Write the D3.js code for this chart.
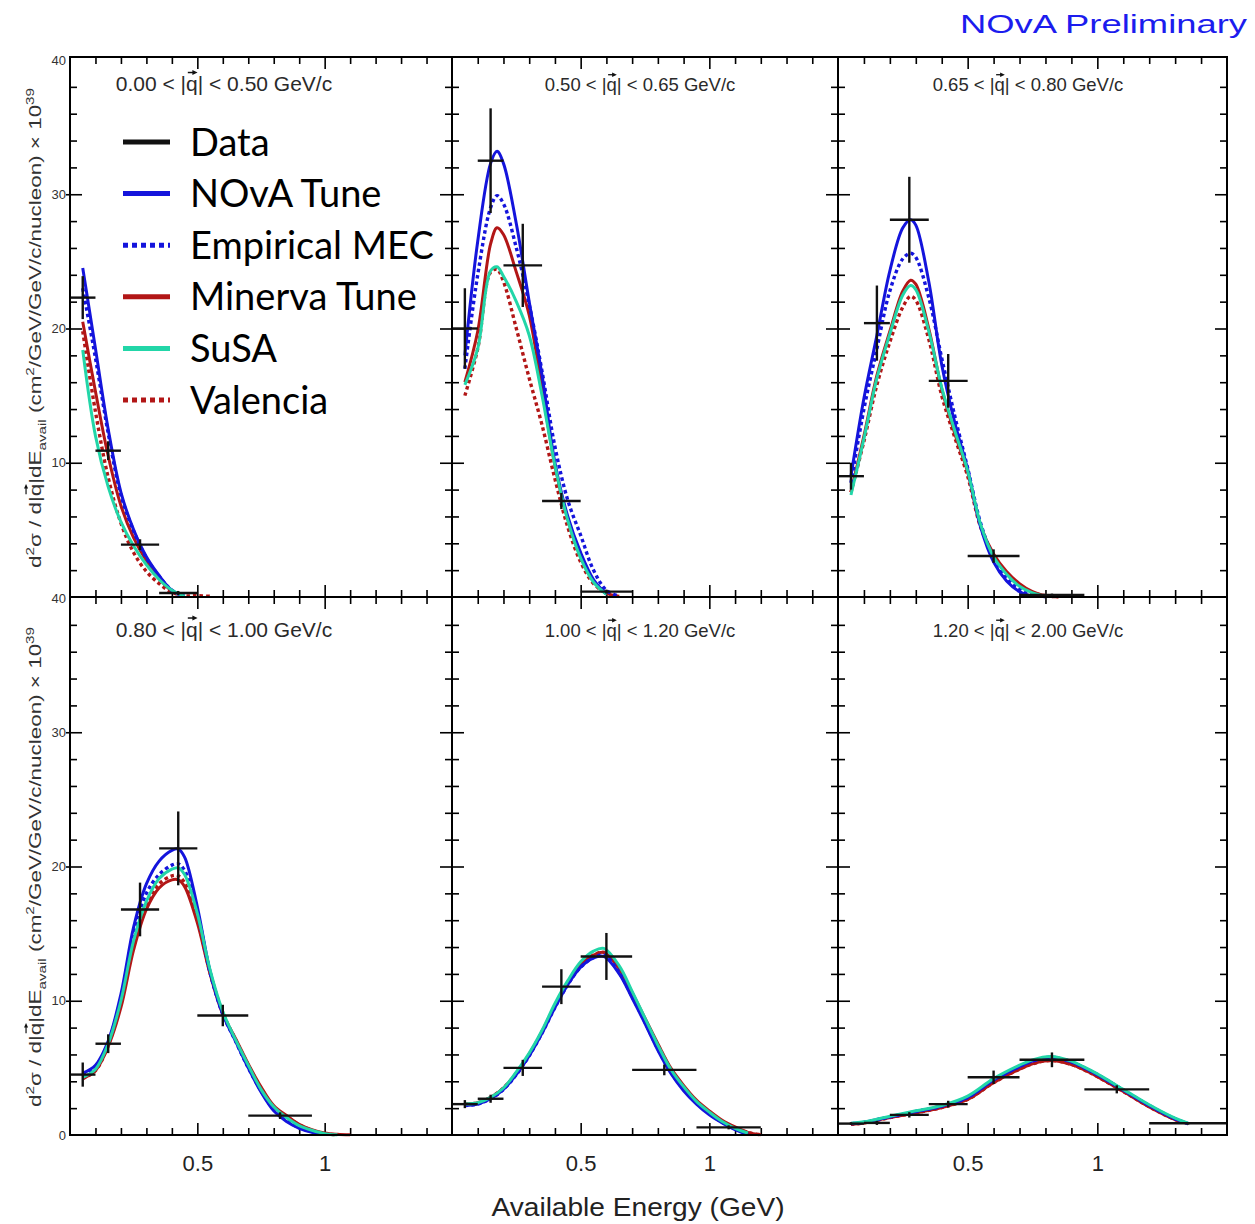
<!DOCTYPE html>
<html>
<head>
<meta charset="utf-8">
<script src="https://cdn.jsdelivr.net/npm/d3@7"></script>
<style>
body{margin:0;background:#fff}
svg{display:block}
</style>
</head>
<body>
<svg id="chart" width="1255" height="1224"></svg>
<script>
// ---- data ----
const panelTitles = ["0.00 < |q| < 0.50 GeV/c", "0.50 < |q| < 0.65 GeV/c", "0.65 < |q| < 0.80 GeV/c",
                     "0.80 < |q| < 1.00 GeV/c", "1.00 < |q| < 1.20 GeV/c", "1.20 < |q| < 2.00 GeV/c"]
const modelNames = ["NOvA Tune", "Empirical MEC", "Minerva Tune", "SuSA", "Valencia"]
const legendNames = ["Data", "NOvA Tune", "Empirical MEC", "Minerva Tune", "SuSA", "Valencia"]

// E_avail bin edges (GeV), shared by all panels
const binEdges = [0, 0.1, 0.2, 0.35, 0.5, 0.7, 0.95, 1.2, 1.5]

// data points (x 1e-39) and errors, one per bin
const data1 = [22.3, 10.9, 3.9, 0.3]
const err1  = [1.6, 0.7, 0.4, 0.15]
const data2 = [20.0, 32.5, 24.7, 7.15, 0.4]
const err2  = [3.0, 3.9, 3.1, 0.6, 0.15]
const data3 = [9.0, 20.4, 28.1, 16.1, 3.05, 0.15]
const err3  = [1.0, 2.8, 3.2, 2.0, 0.5, 0.1]
const data4 = [4.5, 6.8, 16.8, 21.35, 8.9, 1.44]
const err4  = [0.9, 0.7, 2.0, 2.75, 0.8, 0.25]
const data5 = [2.3, 2.7, 5.0, 11.05, 13.3, 4.85, 0.57]
const err5  = [0.3, 0.3, 0.6, 1.3, 1.75, 0.4, 0.15]
const data6 = [0.85, 0.9, 1.5, 2.3, 4.3, 5.6, 3.4, 0.87]
const err6  = [0.1, 0.15, 0.2, 0.25, 0.5, 0.55, 0.3, 0.1]

// model curves: sample energies and values (NOvA, MEC, Minerva, SuSA, Valencia)
const p1E        = [0.05, 0.1, 0.15, 0.2, 0.25, 0.3, 0.35, 0.4, 0.45, 0.5, 0.55]
const p1Nova     = [24.5, 18.5, 12.5, 7.8, 5.0, 3.0, 1.6, 0.5, 0.05, null, null]
const p1Mec      = [23.0, 17.8, 12.2, 7.6, 4.9, 2.9, 1.55, 0.5, 0.05, null, null]
const p1Minerva  = [20.5, 15.3, 10.5, 6.8, 4.4, 2.7, 1.4, 0.45, 0.05, null, null]
const p1Susa     = [18.4, 12.0, 8.2, 5.6, 3.8, 2.4, 1.3, 0.5, 0.05, null, null]
const p1Valencia = [19.8, 13.8, 8.9, 5.5, 3.3, 1.9, 1.0, 0.35, 0.1, 0.1, 0.05]

const p2E        = [0.05, 0.1, 0.15, 0.175, 0.2, 0.25, 0.3, 0.35, 0.4, 0.45, 0.5, 0.55, 0.6, 0.65]
const p2Nova     = [18.0, 26.5, 32.3, 33.2, 32.3, 27.8, 22.0, 16.5, 10.0, 6.0, 3.3, 1.3, 0.2, null]
const p2Mec      = [17.0, 24.0, 29.0, 29.9, 29.3, 26.0, 21.8, 16.8, 11.2, 7.2, 4.6, 2.0, 0.5, 0.05]
const p2Minerva  = [16.0, 19.8, 26.3, 27.5, 27.0, 24.2, 21.0, 15.5, 9.8, 5.8, 3.0, 1.2, 0.3, 0.05]
const p2Susa     = [15.8, 18.5, 24.3, 24.6, 23.9, 22.0, 19.5, 15.0, 9.8, 5.7, 2.9, 1.1, 0.2, null]
const p2Valencia = [15.0, 18.5, 24.2, 24.4, 23.5, 20.0, 16.3, 12.8, 8.8, 5.2, 2.6, 1.0, 0.3, 0.05]

const p3E        = [0.05, 0.1, 0.15, 0.2, 0.25, 0.28, 0.3, 0.35, 0.4, 0.45, 0.5, 0.55, 0.6, 0.65, 0.7, 0.75, 0.8, 0.85]
const p3Nova     = [9.0, 14.8, 19.5, 24.3, 27.5, 28.1, 27.7, 23.5, 17.3, 13.0, 9.5, 5.2, 2.6, 1.2, 0.4, 0.05, null, null]
const p3Mec      = [8.5, 14.0, 18.5, 22.8, 25.2, 25.6, 25.3, 22.3, 17.8, 13.5, 9.6, 5.5, 2.9, 1.4, 0.6, 0.2, 0.02, null]
const p3Minerva  = [7.8, 12.0, 16.5, 19.8, 22.8, 23.6, 23.3, 20.0, 15.5, 12.2, 9.3, 5.3, 3.2, 1.9, 1.0, 0.4, 0.1, 0.02]
const p3Susa     = [7.6, 11.8, 16.3, 19.6, 22.5, 23.2, 22.9, 19.8, 15.6, 12.4, 9.4, 5.4, 3.0, 1.7, 0.8, 0.3, 0.05, null]
const p3Valencia = [7.8, 11.6, 15.8, 19.0, 21.6, 22.4, 22.1, 19.2, 15.0, 11.9, 9.0, 5.2, 3.1, 1.8, 0.9, 0.35, 0.1, 0.02]

const p4E        = [0.05, 0.1, 0.15, 0.2, 0.25, 0.3, 0.35, 0.4, 0.425, 0.45, 0.5, 0.55, 0.6, 0.65, 0.7, 0.75, 0.8, 0.85, 0.9, 0.95, 1.0, 1.05, 1.1]
const p4Nova     = [4.6, 5.2, 7.0, 10.5, 15.5, 18.7, 20.4, 21.2, 21.3, 20.7, 17.0, 12.2, 9.0, 7.0, 5.0, 3.2, 1.8, 1.0, 0.5, 0.2, 0.05, null, null]
const p4Mec      = [4.5, 5.1, 6.9, 10.2, 15.0, 18.0, 19.4, 20.1, 20.2, 19.7, 16.6, 12.1, 9.0, 7.0, 5.0, 3.3, 1.9, 1.1, 0.55, 0.25, 0.05, null, null]
const p4Minerva  = [4.2, 4.8, 6.6, 9.5, 13.8, 16.8, 18.4, 19.0, 19.0, 18.5, 15.8, 12.0, 9.0, 7.2, 5.3, 3.6, 2.2, 1.45, 0.8, 0.4, 0.15, 0.05, 0.01]
const p4Susa     = [4.3, 4.9, 6.8, 10.0, 14.5, 17.4, 19.1, 19.8, 19.9, 19.4, 16.5, 12.3, 9.2, 7.1, 5.2, 3.4, 2.1, 1.3, 0.7, 0.35, 0.1, 0.01, null]
const p4Valencia = [4.2, 4.8, 6.7, 9.8, 14.2, 17.1, 18.7, 19.3, 19.3, 18.8, 16.1, 12.1, 9.1, 7.1, 5.2, 3.5, 2.1, 1.4, 0.75, 0.35, 0.1, 0.02, null]

const p5E        = [0.05, 0.1, 0.15, 0.2, 0.25, 0.3, 0.35, 0.4, 0.45, 0.5, 0.55, 0.59, 0.65, 0.7, 0.75, 0.8, 0.85, 0.9, 0.95, 1.0, 1.05, 1.1, 1.15, 1.2]
const p5Nova     = [2.2, 2.3, 2.7, 3.4, 4.5, 5.9, 7.6, 9.5, 11.2, 12.5, 13.2, 13.3, 12.0, 10.2, 8.3, 6.3, 4.6, 3.3, 2.3, 1.5, 0.9, 0.4, 0.05, null]
const p5Mec      = [2.2, 2.3, 2.7, 3.4, 4.5, 5.9, 7.6, 9.5, 11.2, 12.5, 13.2, 13.4, 12.1, 10.3, 8.4, 6.4, 4.7, 3.4, 2.4, 1.6, 0.95, 0.45, 0.08, null]
const p5Minerva  = [2.3, 2.4, 2.8, 3.5, 4.6, 6.0, 7.7, 9.6, 11.3, 12.7, 13.4, 13.6, 12.4, 10.6, 8.7, 6.8, 5.0, 3.7, 2.6, 1.8, 1.1, 0.6, 0.2, 0.02]
const p5Susa     = [2.3, 2.4, 2.8, 3.5, 4.7, 6.1, 7.8, 9.8, 11.5, 12.9, 13.7, 13.9, 12.6, 10.7, 8.7, 6.7, 4.9, 3.6, 2.5, 1.7, 1.0, 0.5, 0.15, null]
const p5Valencia = [2.3, 2.4, 2.8, 3.5, 4.6, 6.0, 7.7, 9.6, 11.3, 12.7, 13.4, 13.6, 12.4, 10.5, 8.6, 6.7, 4.9, 3.6, 2.5, 1.7, 1.0, 0.55, 0.18, 0.02]

const p6E        = [0.05, 0.1, 0.2, 0.3, 0.4, 0.5, 0.6, 0.7, 0.75, 0.82, 0.9, 0.95, 1.0, 1.1, 1.2, 1.3, 1.35]
const p6Nova     = [0.85, 0.95, 1.35, 1.75, 2.15, 2.8, 4.1, 5.1, 5.5, 5.8, 5.45, 5.0, 4.5, 3.35, 2.2, 1.2, 0.85]
const p6Mec      = [0.85, 0.95, 1.35, 1.75, 2.15, 2.8, 4.1, 5.1, 5.5, 5.8, 5.45, 5.0, 4.5, 3.35, 2.2, 1.2, 0.85]
const p6Minerva  = [0.8, 0.9, 1.3, 1.65, 2.05, 2.65, 3.9, 4.9, 5.3, 5.55, 5.25, 4.85, 4.35, 3.25, 2.1, 1.15, 0.85]
const p6Susa     = [0.88, 0.98, 1.4, 1.8, 2.2, 2.9, 4.2, 5.2, 5.6, 5.85, 5.5, 5.05, 4.55, 3.4, 2.25, 1.25, 0.88]
const p6Valencia = [0.8, 0.9, 1.3, 1.65, 2.05, 2.65, 3.9, 4.9, 5.3, 5.55, 5.25, 4.85, 4.35, 3.25, 2.1, 1.15, 0.85]

const xMajor = [0.5, 1.0]
const xMinor = [0.1, 0.2, 0.3, 0.4, 0.6, 0.7, 0.8, 0.9, 1.1, 1.2, 1.3, 1.4]
const yMajor = [10, 20, 30]
const yMinor = [2, 4, 6, 8, 12, 14, 16, 18, 22, 24, 26, 28, 32, 34, 36, 38]
// the top row's 0 sits under the bottom row's 40, so it is only labelled once
const yLabelsTop = [10, 20, 30, 40]
const yLabelsBottom = [0, 10, 20, 30, 40]
const xLabels = [0.5, 1]

// ---- look ----
const modelColors = ["#1414dc", "#1414dc", "#b21616", "#22d6a8", "#b21616"]
const modelDash = [null, "3.5 3", null, null, "3.5 3"]
const drawOrder = [4, 2, 1, 0, 3]
const font = "'Liberation Sans', Arial, Helvetica, sans-serif"

const colEdges = [70, 452, 838, 1227]
const rowEdges = [57, 597, 1135]
const titleX = [224, 640, 1028]
const titleSize = [21, 18.5, 18.5]

const panelE = [p1E, p2E, p3E, p4E, p5E, p6E]
const panelModels = [
    [p1Nova, p1Mec, p1Minerva, p1Susa, p1Valencia],
    [p2Nova, p2Mec, p2Minerva, p2Susa, p2Valencia],
    [p3Nova, p3Mec, p3Minerva, p3Susa, p3Valencia],
    [p4Nova, p4Mec, p4Minerva, p4Susa, p4Valencia],
    [p5Nova, p5Mec, p5Minerva, p5Susa, p5Valencia],
    [p6Nova, p6Mec, p6Minerva, p6Susa, p6Valencia]
]
const panelData = [data1, data2, data3, data4, data5, data6]
const panelErr = [err1, err2, err3, err4, err5, err6]

const svg = d3.select("#chart")
svg.append("rect").attr("width", 1255).attr("height", 1224).attr("fill", "#fff")

function qArrow(parent, textNode, idx, fs)
{
    // small vector arrow drawn over the q
    let box = textNode.getExtentOfChar(idx)
    let base = textNode.getStartPositionOfChar(idx).y
    let ay = base - 0.88 * fs
    let x0 = box.x + box.width * 0.15, x1 = box.x + box.width * 0.9
    parent.append("path")
        .attr("d", `M${x0},${ay}L${x1 - 2},${ay}`)
        .attr("stroke", "#111").attr("stroke-width", fs * 0.07)
    parent.append("path")
        .attr("d", `M${x1 + 1},${ay}L${x1 - fs * 0.2},${ay - fs * 0.12}L${x1 - fs * 0.2},${ay + fs * 0.12}Z`)
        .attr("fill", "#111")
}

function tickSet(g, axis, tf)
{
    g.append("g").attr("transform", tf).call(axis)
        .call(a => {
            a.select(".domain").remove()
            a.selectAll("line").attr("stroke", "#000").attr("stroke-width", 1.6)
        })
}

function drawPanel(i)
{
    let col = i % 3, row = Math.floor(i / 3)
    let left = colEdges[col], right = colEdges[col + 1]
    let top = rowEdges[row], bottom = rowEdges[row + 1]
    let x = d3.scaleLinear().domain([0, 1.5]).range([left, right])
    let y = d3.scaleLinear().domain([0, 40]).range([bottom, bottom - 537])
    let g = svg.append("g").attr("class", "panel")

    for (const [vals, s] of [[xMajor, 12], [xMinor, 7]]) {
        tickSet(g, d3.axisBottom(x).tickValues(vals).tickSize(-s).tickFormat(""), `translate(0,${bottom})`)
        tickSet(g, d3.axisTop(x).tickValues(vals).tickSize(-s).tickFormat(""), `translate(0,${top})`)
    }
    for (const [vals, s] of [[yMajor, 12], [yMinor, 7]]) {
        tickSet(g, d3.axisLeft(y).tickValues(vals).tickSize(-s).tickFormat(""), `translate(${left},0)`)
        tickSet(g, d3.axisRight(y).tickValues(vals).tickSize(-s).tickFormat(""), `translate(${right},0)`)
    }
    if (col == 0) {
        tickSet(g, d3.axisLeft(y).tickValues(yMajor).tickSize(4).tickFormat(""), `translate(${left},0)`)
        g.append("g").attr("transform", `translate(${left},0)`)
            .call(d3.axisLeft(y).tickValues(row == 0 ? yLabelsTop : yLabelsBottom).tickSize(0).tickPadding(4))
            .call(a => {
                a.select(".domain").remove()
                a.selectAll("text").attr("font-family", font).attr("font-size", 13).attr("fill", "#333")
            })
    }
    if (row == 1) {
        g.append("g").attr("transform", `translate(0,${bottom})`)
            .call(d3.axisBottom(x).tickValues(xLabels).tickSize(0).tickPadding(20).tickFormat(d3.format("")))
            .call(a => {
                a.select(".domain").remove()
                a.selectAll("text").attr("font-family", font).attr("font-size", 22).attr("fill", "#222")
            })
    }

    // model curves
    let es = panelE[i]
    for (const m of drawOrder) {
        let pts = es.map((e, k) => [e, panelModels[i][m][k]])
        let line = d3.line()
            .defined(d => d[1] != null)
            .x(d => x(d[0])).y(d => y(d[1]))
            .curve(d3.curveCatmullRom.alpha(0.5))
        g.append("path").datum(pts)
            .attr("d", line)
            .attr("fill", "none")
            .attr("stroke", modelColors[m])
            .attr("stroke-width", modelDash[m] ? 3.4 : 3)
            .attr("stroke-dasharray", modelDash[m])
            .attr("stroke-linejoin", "round")
    }

    // data crosses
    let dg = g.append("g").attr("stroke", "#111").attr("stroke-width", 2.4)
    panelData[i].forEach((v, k) => {
        let lo = binEdges[k], hi = binEdges[k + 1], e = panelErr[i][k]
        dg.append("line").attr("x1", x(lo)).attr("x2", x(hi)).attr("y1", y(v)).attr("y2", y(v))
        dg.append("line").attr("x1", x((lo + hi) / 2)).attr("x2", x((lo + hi) / 2))
            .attr("y1", y(Math.max(0, v - e))).attr("y2", y(v + e))
    })

    // frame
    g.append("rect").attr("x", left).attr("y", top)
        .attr("width", right - left).attr("height", bottom - top)
        .attr("fill", "none").attr("stroke", "#000").attr("stroke-width", 2)

    // title
    let fs = titleSize[col]
    let t = g.append("text")
        .attr("x", titleX[col]).attr("y", top + (row == 0 ? 34 : 39.5))
        .attr("text-anchor", "middle")
        .attr("font-family", font).attr("font-size", fs).attr("fill", "#2a2a2a")
        .text(panelTitles[i])
    qArrow(g, t.node(), panelTitles[i].indexOf("q"), fs)
}

for (let i = 0; i < 6; i++) drawPanel(i)

// legend (top-left panel)
let lg = svg.append("g")
legendNames.forEach((name, k) => {
    let ly = 142 + k * 51.6
    let m = k - 1
    lg.append("line").attr("x1", 123).attr("x2", 170).attr("y1", ly).attr("y2", ly)
        .attr("stroke", k == 0 ? "#111" : modelColors[m])
        .attr("stroke-width", 5)
        .attr("stroke-dasharray", k > 0 && modelDash[m] ? "5 4" : null)
    lg.append("text").attr("x", 190).attr("y", ly + 13.5)
        .attr("font-family", "Lato, 'Open Sans', sans-serif").attr("font-size", 38).attr("fill", "#000")
        .text(name)
})

// y axis titles (one per row)
const yTitleParts = [["d", 0], ["2", 1], ["\u03c3 / d|", 0], ["q", 0], ["|dE", 0], ["avail", -1],
                     [" (cm", 0], ["2", 1], ["/GeV/GeV/c/nucleon) \u00d7 10", 0], ["39", 1]]
for (const cy of [328, 867]) {
    let yg = svg.append("g").attr("transform", `translate(41,${cy}) rotate(-90)`)
    let yt = yg.append("text").attr("text-anchor", "middle")
        .attr("font-family", font).attr("font-size", 17).attr("fill", "#333")
        .attr("textLength", 480).attr("lengthAdjust", "spacingAndGlyphs")
    let shift = 0, qIdx = 0, count = 0
    for (const [s, lvl] of yTitleParts) {
        let target = lvl == 1 ? -7 : lvl == -1 ? 5 : 0
        yt.append("tspan").attr("dy", target - shift).attr("font-size", lvl ? 11.5 : 17).text(s)
        shift = target
        if (s == "q") qIdx = count
        count += s.length
    }
    qArrow(yg, yt.node(), qIdx, 17)
}

// x axis title
svg.append("text").attr("x", 638).attr("y", 1216)
    .attr("text-anchor", "middle")
    .attr("font-family", font).attr("font-size", 25).attr("fill", "#222")
    .attr("textLength", 293).attr("lengthAdjust", "spacingAndGlyphs")
    .text("Available Energy (GeV)")

svg.append("text").attr("x", 1247).attr("y", 33)
    .attr("text-anchor", "end")
    .attr("font-family", font).attr("font-size", 26).attr("fill", "#1c1cee")
    .attr("textLength", 287).attr("lengthAdjust", "spacingAndGlyphs")
    .text("NOvA Preliminary")
</script>
</body>
</html>
